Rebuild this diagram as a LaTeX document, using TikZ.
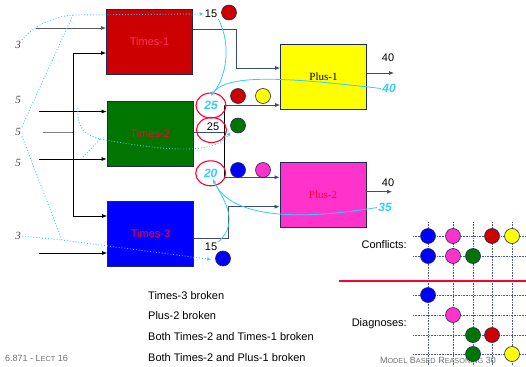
\documentclass[tikz,border=0pt]{standalone}
\usepackage{fontspec}
\setmainfont{Liberation Sans}
\newfontfamily\timesfont{Liberation Serif}
\usepackage{xcolor}
\usepackage{tikz}
\usetikzlibrary{arrows.meta,shapes.geometric,positioning,calc}

\definecolor{navy}{HTML}{1F2A5C}
\definecolor{slate}{HTML}{3A4A7A}
\definecolor{boxred}{HTML}{CC0000}
\definecolor{boxgreen}{HTML}{007500}
\definecolor{boxblue}{HTML}{0000FF}
\definecolor{boxyellow}{HTML}{FFFF00}
\definecolor{boxpink}{HTML}{FF33CC}
\definecolor{ringred}{HTML}{FF0033}
\definecolor{skyline}{HTML}{33CCFF}
\definecolor{gridnavy}{HTML}{4A5A8C}
\definecolor{footgray}{HTML}{707070}

\newcommand{\smallc}[1]{{\fontsize{7.3}{8}\selectfont #1}}

\begin{document}
\begin{tikzpicture}[x=1pt,y=-1pt,
		comp/.style={draw=navy, line width=0.8pt, minimum width=86pt, minimum height=65pt, inner sep=0pt, font=\fontsize{11}{11}\selectfont},
		ball/.style={circle, draw=navy, fill=#1, minimum size=15pt, inner sep=0pt, line width=0.6pt},
		guess/.style={ellipse, draw=ringred, line width=1.1pt, minimum width=30pt, minimum height=25pt, inner sep=0pt},
		val/.style={font=\fontsize{11}{11}\selectfont, inner sep=1pt},
		pred/.style={text=skyline, font=\fontsize{12}{12}\selectfont\bfseries\itshape, inner sep=1pt},
		inp/.style={text=darkgray, font=\fontsize{11}{11}\selectfont\timesfont\itshape, inner sep=1pt},
		wire/.style={line width=0.7pt, -{Latex[length=5pt,width=4pt]}},
		trace/.style={draw=skyline, line width=0.8pt},
		dots/.style={draw=skyline, line width=0.9pt, dotted},
		griddot/.style={draw=gridnavy, line width=0.6pt, densely dotted},
		list/.style={anchor=west, font=\fontsize{11}{11}\selectfont, inner sep=0pt},
		foot/.style={text=footgray, font=\fontsize{9}{10}\selectfont, inner sep=0pt}]
		\useasboundingbox (0,0) rectangle (526,366);

		\node[comp, fill=boxred, text=ringred!80!white] (t1) at (149.5,41.5) {Times-1};
		\node[comp, fill=boxgreen, text=ringred] (t2) at (150,134) {Times-2};
		\node[comp, fill=boxblue, text=ringred] (t3) at (150.5,233.5) {Times-3};
		\node[comp, fill=boxyellow, font=\fontsize{11}{11}\selectfont\timesfont] (p1) at (323.5,77) {Plus-1};
		\node[comp, fill=boxpink, text=ringred, font=\fontsize{11}{11}\selectfont\timesfont] (p2) at (323,195) {Plus-2};

		\node[inp] (a3) at (18,45) {3};
		\node[inp] (b5) at (18,100) {5};
		\node[inp] (c5) at (18,131.5) {5};
		\node[inp] (d5) at (18,162.5) {5};
		\node[inp] (e3) at (18,236) {3};

		\coordinate (ina) at (36,28);
		\coordinate (inb) at (39,111.5);
		\coordinate (inc) at (43,132.5);
		\coordinate (ind) at (39,159);
		\coordinate (ine) at (39,253);
		\coordinate (bust) at (73,53);
		\coordinate (busc) at (73,132.5);
		\coordinate (busb) at (73,216);
		\draw[wire, gray!70!black] (ina) -- (ina -| t1.west);
		\draw[wire] (inb) -- (inb -| t2.west);
		\draw[gray, line width=1.2pt] (inc) -- (busc);
		\draw[wire] (ind) -- (ind -| t2.west);
		\draw[wire] (ine) -- (ine -| t3.west);
		\draw[line width=0.7pt] (bust) -- (busb);
		\draw[wire] (bust) -- (bust -| t1.west);
		\draw[wire] (busb) -- (busb -| t3.west);

		\coordinate (o1) at (236,29);
		\coordinate (o2) at (224,132.7);
		\coordinate (o2a) at (224,105);
		\coordinate (o2b) at (224,177.3);
		\coordinate (o3) at (228,238);
		\draw[wire, slate] (o1 -| t1.east) -- (o1) |- (p1.west |- 0,68);
		\draw[line width=0.7pt, slate] (o2 -| t2.east) -- (o2);
		\draw[line width=0.7pt] (o2a) -- (o2b);
		\draw[wire, slate] (o2a) -- (o2a -| p1.west);
		\draw[wire, slate] (o2b) -- (o2b -| p2.west);
		\draw[wire, slate] (o3 -| t3.east) -- (o3) |- (p2.west |- 0,206.7);

		\coordinate (q1) at (394,73);
		\coordinate (q2) at (392,191.7);
		\draw[wire, slate] (q1 -| p1.east) -- (q1);
		\draw[wire, slate] (q2 -| p2.east) -- (q2);
		\node[val] (out1) at (388,58) {40};
		\node[val] (out2) at (388,183) {40};

		\node[val] (n15) at (211,14) {15};
		\node[ball=boxred] (r15) at (229,12.5) {};
		\node[guess, pred] (e25) at (211,105.5) {25};
		\node[ball=boxred] (r25) at (238,96) {};
		\node[ball=boxyellow] (y25) at (263,96) {};
		\node[guess] (e25b) at (211.5,130) {};
		\node[val] (n25) at (213,126.5) {25};
		\node[ball=boxgreen] (g25) at (238,125.5) {};
		\node[guess, pred] (e20) at (210.7,173.3) {20};
		\node[ball=boxblue] (b20) at (238,170) {};
		\node[ball=boxpink] (m20) at (263,170) {};
		\node[val] (m15) at (211,247) {15};
		\node[ball=boxblue] (b15) at (223,258.5) {};
		\node[pred] (v40) at (389,88.5) {40};
		\node[pred] (v35) at (385,207.5) {35};

		\draw[trace, -{Latex[length=4pt,width=3.5pt]}] (n15.south east) .. controls (232,45) and (226,78) .. ($(e25.north)+(0,3)$);
		\draw[trace] (v40.west) .. controls (290,78) and (222,72) .. ($(e25.north)+(0.5,3)$);
		\draw[trace, -{Latex[length=4pt,width=3.5pt]}] (m15.north east) .. controls (240,222) and (224,200) .. ($(e20.south)+(2,-7)$);
		\draw[trace] (v35.west) .. controls (290,222) and (226,216) .. ($(e20.south)+(2.5,-7)$);

		\coordinate (top) at (73,15);
		\coordinate (low) at (62,240);
		\coordinate (mid) at (100,139);
		\draw[dots, -{Latex[length=4pt,width=3.5pt]}] (a3.north east) .. controls (33,26) and (55,16) .. (top) -- (n15.west);
		\draw[dots] (c5.north east) -- (top);
		\draw[dots, -{Latex[length=4pt,width=3.5pt]}] (c5.south east) -- (low) -- ($(b15.west)+(-4,1)$);
		\draw[dots] (e3.east) -- (low);
		\draw[dots] (78,108) .. controls (76,130) and (88,136) .. (mid);
		\draw[dots] (83,157) -- (mid);
		\draw[dots, -{Latex[length=4pt,width=3.5pt]}] (mid) .. controls (160,150) and (214,156) .. ($(g25.south west)+(-2,1)$);

		\foreach \gx in {428,453,473,492,512}
			\draw[griddot] (\gx,222) -- (\gx,366);
		\foreach \gy in {236,256,295,315,335,354}
			\draw[griddot] (413,\gy) -- (526,\gy);
		\draw[ringred, line width=1.3pt] (339,281) -- (526,281);
		\node[val, anchor=east] (conf) at (408,245) {Conflicts:};
		\node[val, anchor=east] (diag) at (408,324) {Diagnoses:};

		\node[list] (d1) at (148,296) {Times-3 broken};
		\node[list] (d2) at (148,316) {Plus-2 broken};
		\node[list] (d3) at (148,337) {Both Times-2 and Times-1 broken};
		\node[list] (d4) at (148,358) {Both Times-2 and Plus-1 broken};

		\node[foot, anchor=west] (lect) at (5,358) {6.871 - L\smallc{ECT} 16};
		\node[foot, anchor=east] (mbr) at (496,360) {M\smallc{ODEL} B\smallc{ASED} R\smallc{EASONING} 30};

		\foreach \gx/\gy/\gc in {428/236/boxblue, 453/236/boxpink, 492/236/boxred, 512/236/boxyellow,
			428/256/boxblue, 453/256/boxpink, 473/256/boxgreen,
			428/295/boxblue, 453/315/boxpink, 473/335/boxgreen, 492/335/boxred,
			473/354/boxgreen, 512/354/boxyellow}
			\node[ball=\gc] at (\gx,\gy) {};
	\end{tikzpicture}
\end{document}
